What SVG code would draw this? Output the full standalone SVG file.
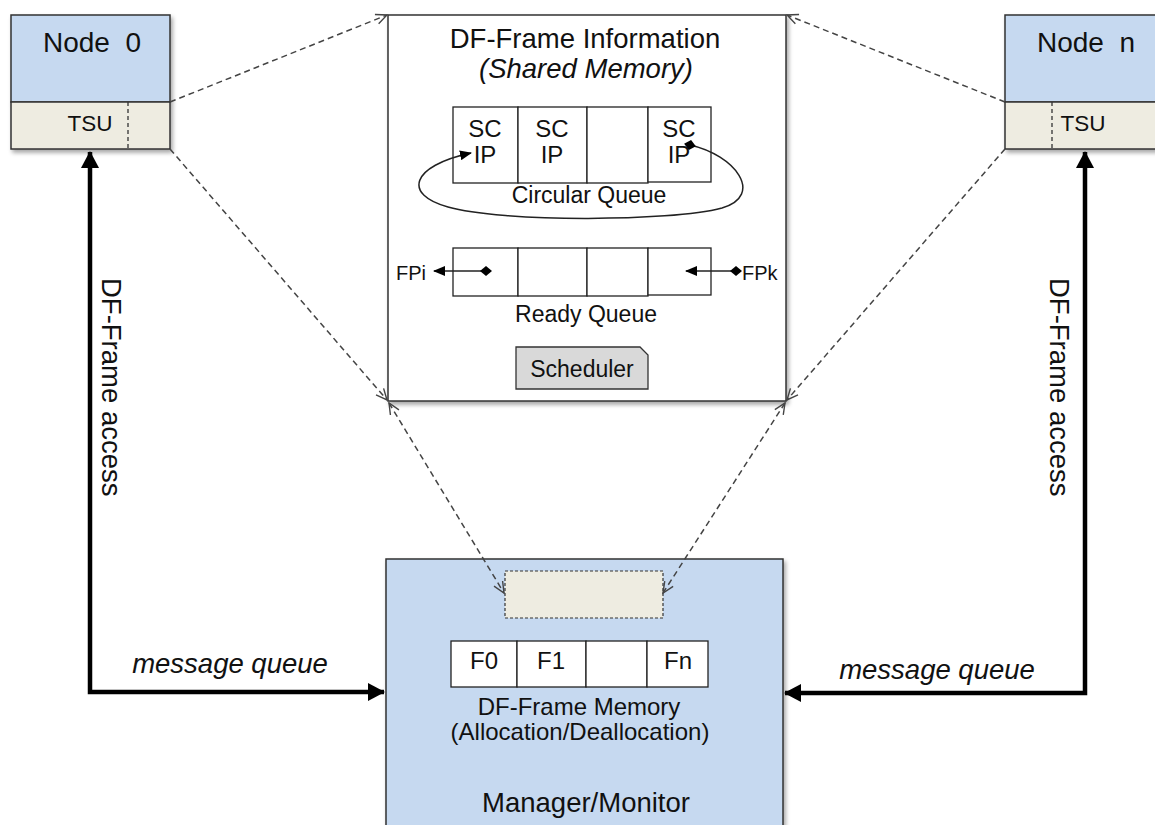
<svg xmlns="http://www.w3.org/2000/svg" width="1155" height="825" viewBox="0 0 1155 825">
<style>
text{font-family:"Liberation Sans",Arial,sans-serif;fill:#111}
.box{stroke:#333;stroke-width:1.5}
.blue{fill:#c6d9f0}
.beige{fill:#eeece1}
.cell{fill:#fff;stroke:#222;stroke-width:1.3}
.dash{fill:none;stroke:#444;stroke-width:1.5;stroke-dasharray:6,4}
.thick{fill:none;stroke:#000;stroke-width:4.5}
.thin{fill:none;stroke:#222;stroke-width:1.5}
.c{text-anchor:middle}
</style>
<defs>
<filter id="sh" x="-10%" y="-10%" width="120%" height="120%">
<feDropShadow dx="2" dy="3" stdDeviation="2" flood-color="#000" flood-opacity="0.35"/>
</filter>
<marker id="open" markerUnits="userSpaceOnUse" markerWidth="14" markerHeight="14" refX="12" refY="6" orient="auto-start-reverse" viewBox="0 0 14 12">
<path d="M1,1 L12,6 L1,11" fill="none" stroke="#444" stroke-width="1.4"/>
</marker>
<marker id="big" markerUnits="userSpaceOnUse" markerWidth="18" markerHeight="20" refX="16" refY="9" orient="auto-start-reverse" viewBox="0 0 18 18">
<path d="M0,0 L17,9 L0,18 Z" fill="#000"/>
</marker>
<marker id="sm" markerUnits="userSpaceOnUse" markerWidth="12" markerHeight="10" refX="11" refY="5" orient="auto" viewBox="0 0 12 10">
<path d="M0,0 L12,5 L0,10 Z" fill="#000"/>
</marker>
<marker id="dia" markerUnits="userSpaceOnUse" markerWidth="12" markerHeight="12" refX="6" refY="6" orient="auto" viewBox="0 0 12 12">
<path d="M0,6 L6,1 L12,6 L6,11 Z" fill="#000"/>
</marker>
</defs>
<rect width="1155" height="825" fill="#fff"/>

<g id="node0">
<g filter="url(#sh)">
<rect x="11" y="15" width="159" height="87" class="box blue"/>
<rect x="11" y="102" width="159" height="47" class="box beige"/>
</g>
<line x1="128" y1="102" x2="128" y2="149" stroke="#333" stroke-width="1.3" stroke-dasharray="4,3"/>
<text x="92" y="52" class="c" font-size="28">Node&#160; 0</text>
<text x="90" y="131" class="c" font-size="22.5">TSU</text>
</g>

<g id="noden">
<g filter="url(#sh)">
<rect x="1005" y="15" width="160" height="87" class="box blue"/>
<rect x="1005" y="102" width="160" height="47" class="box beige"/>
</g>
<line x1="1052" y1="102" x2="1052" y2="149" stroke="#333" stroke-width="1.3" stroke-dasharray="4,3"/>
<text x="1086" y="52" class="c" font-size="28">Node&#160; n</text>
<text x="1083" y="131" class="c" font-size="22.5">TSU</text>
</g>

<g id="dfinfo">
<rect x="388" y="15" width="398" height="386" fill="#fff" class="box" filter="url(#sh)"/>
<text x="585" y="48" class="c" font-size="27.5">DF-Frame Information</text>
<text x="586" y="78" class="c" font-size="27.5" font-style="italic">(Shared Memory)</text>
<g id="circular-queue">
<rect x="453" y="107" width="65" height="76" class="cell"/>
<rect x="518" y="107" width="69" height="76" class="cell"/>
<rect x="587" y="107" width="61" height="76" class="cell"/>
<rect x="648" y="107" width="63" height="75" class="cell"/>
<text x="485" y="137" class="c" font-size="24">SC</text>
<text x="485" y="163" class="c" font-size="24">IP</text>
<text x="552" y="137" class="c" font-size="24">SC</text>
<text x="552" y="163" class="c" font-size="24">IP</text>
<text x="679" y="137" class="c" font-size="24">SC</text>
<text x="679" y="163" class="c" font-size="24">IP</text>
<path class="thin" d="M690,145 C735,155 765,195 722,208 C670,222 500,222 448,207 C403,195 410,166 471,153" marker-start="url(#dia)" marker-end="url(#sm)"/>
<text x="589" y="203" class="c" font-size="23">Circular Queue</text>
</g>
<g id="ready-queue">
<rect x="453" y="248" width="65" height="48" class="cell"/>
<rect x="518" y="248" width="69" height="48" class="cell"/>
<rect x="587" y="248" width="61" height="48" class="cell"/>
<rect x="648" y="248" width="63" height="47" class="cell"/>
<path class="thin" d="M486,271 L434,271" marker-start="url(#dia)" marker-end="url(#sm)"/>
<path class="thin" d="M736,271 L686,271" marker-start="url(#dia)" marker-end="url(#sm)"/>
<text x="396" y="280" font-size="20">FPi</text>
<text x="742" y="280" font-size="20">FPk</text>
<text x="586" y="322" class="c" font-size="23">Ready Queue</text>
</g>
<g id="scheduler">
<path d="M516,347 L640,347 L648,355 L648,389 L516,389 Z" fill="#d9d9d9" stroke="#333" stroke-width="1.3"/>
<text x="582" y="377" class="c" font-size="23">Scheduler</text>
</g>
</g>

<g id="manager">
<rect x="386" y="559" width="397" height="280" class="box blue" filter="url(#sh)"/>
<rect x="505" y="571" width="158" height="47" class="beige" stroke="#333" stroke-width="1.2" stroke-dasharray="3,2"/>
<rect x="451" y="641" width="66" height="46" class="cell"/>
<rect x="517" y="641" width="69" height="46" class="cell"/>
<rect x="586" y="641" width="61" height="46" class="cell"/>
<rect x="647" y="641" width="61" height="46" class="cell"/>
<text x="484" y="669" class="c" font-size="24">F0</text>
<text x="551" y="669" class="c" font-size="24">F1</text>
<text x="678" y="669" class="c" font-size="24">Fn</text>
<text x="579" y="715" class="c" font-size="24">DF-Frame Memory</text>
<text x="580" y="740" class="c" font-size="24">(Allocation/Deallocation)</text>
<text x="586" y="812" class="c" font-size="27.5">Manager/Monitor</text>
</g>

<g id="connectors">
<path class="dash" d="M170,102 L387,15" marker-end="url(#open)"/>
<path class="dash" d="M170,149 L387,400" marker-end="url(#open)"/>
<path class="dash" d="M1005,102 L787,15" marker-end="url(#open)"/>
<path class="dash" d="M1005,149 L787,400" marker-end="url(#open)"/>
<path class="dash" d="M389,403 L504,593" marker-start="url(#open)" marker-end="url(#open)"/>
<path class="dash" d="M785,403 L663,593" marker-start="url(#open)" marker-end="url(#open)"/>
<path class="thick" d="M90,152 L90,692 L384,692" marker-start="url(#big)" marker-end="url(#big)"/>
<path class="thick" d="M1085,152 L1085,693 L785,693" marker-start="url(#big)" marker-end="url(#big)"/>
<text x="230" y="673" class="c" font-size="27.5" font-style="italic">message queue</text>
<text x="937" y="679" class="c" font-size="27.5" font-style="italic">message queue</text>
<text transform="translate(102,278) rotate(90)" font-size="27.5">DF-Frame access</text>
<text transform="translate(1050,278) rotate(90)" font-size="27.5">DF-Frame access</text>
</g>
</svg>
